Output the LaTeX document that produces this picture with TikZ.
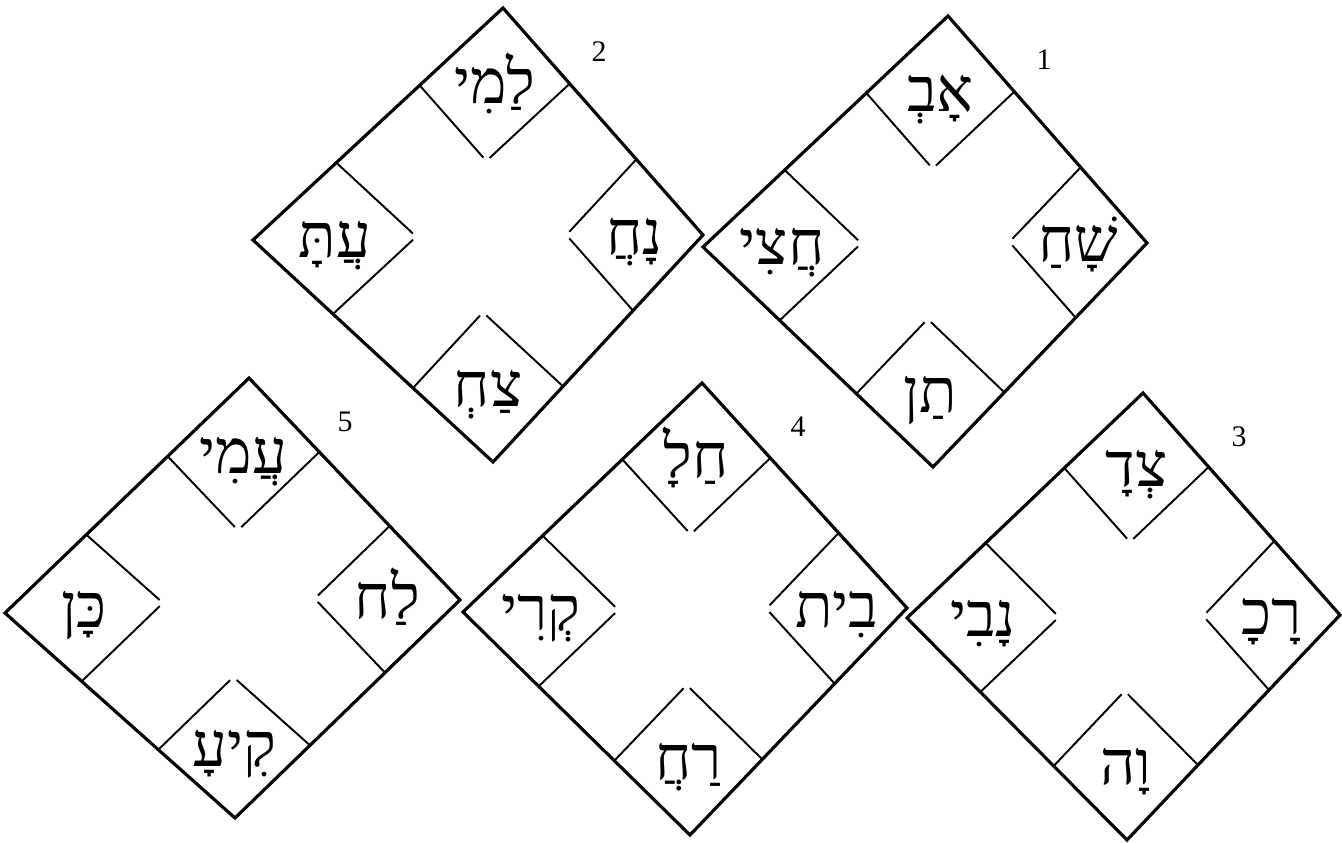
\documentclass[tikz,border=0pt]{standalone}
\usepackage{fontspec}
\setmainfont{Liberation Serif}
\newfontfamily\hebfont[Script=Hebrew]{Liberation Serif}
\TeXXeTstate=1
\usetikzlibrary{calc}

\begin{document}
\begin{tikzpicture}[
  x=0.02cm, y=-0.02cm,
  frame/.style={line width=1.8pt, line join=miter},
  cell/.style={line width=1.1pt, shorten >=0.09cm},
  syl/.style={anchor=base, inner sep=0pt, font=\hebfont\fontsize{35}{35}\selectfont},
  num/.style={inner sep=0pt, font=\fontsize{17}{17}\selectfont}
]
  \useasboundingbox (0,0) rectangle (1342,842);

  % one square per entry: corners top/right/bottom/left, number, then the four syllables
  \foreach \d/\tx/\ty/\rx/\ry/\bx/\by/\lx/\ly/\n/\wt/\wr/\wb/\wl in {
      d1/948/16/1147/243/933/467/703/247/1/אָבְ/שָׁחַ/תַן/חֲצִי,
      d2/503/8/703/235/493/462/253/240/2/לַמִי/נָחֲ/צַחְ/עֲתָּ,
      d3/1143/393/1340/615/1127/840/907/618/3/צְדָ/רָכָ/וָה/נָבִי,
      d4/702/383/907/608/690/835/463/612/4/חַלָ/בִית/רַחֲ/קְרִי,
      d5/249/378/460/600/235/818/5/613/5/עֲמִי/לַח/קִיעָ/כָּן}{
    \coordinate (\d-T) at (\tx,\ty);
    \coordinate (\d-R) at (\rx,\ry);
    \coordinate (\d-B) at (\bx,\by);
    \coordinate (\d-L) at (\lx,\ly);
    \draw[frame] (\d-T) -- (\d-R) -- (\d-B) -- (\d-L) -- cycle;

    % corner cells
    \coordinate (\d-TL) at ($(\d-T)!1/3!(\d-L)$);
    \coordinate (\d-TR) at ($(\d-T)!1/3!(\d-R)$);
    \coordinate (\d-RT) at ($(\d-R)!1/3!(\d-T)$);
    \coordinate (\d-RB) at ($(\d-R)!1/3!(\d-B)$);
    \coordinate (\d-BR) at ($(\d-B)!1/3!(\d-R)$);
    \coordinate (\d-BL) at ($(\d-B)!1/3!(\d-L)$);
    \coordinate (\d-LB) at ($(\d-L)!1/3!(\d-B)$);
    \coordinate (\d-LT) at ($(\d-L)!1/3!(\d-T)$);
    \coordinate (\d-Ti) at ($(\d-TL)+(\d-TR)-(\d-T)$);
    \coordinate (\d-Ri) at ($(\d-RT)+(\d-RB)-(\d-R)$);
    \coordinate (\d-Bi) at ($(\d-BR)+(\d-BL)-(\d-B)$);
    \coordinate (\d-Li) at ($(\d-LB)+(\d-LT)-(\d-L)$);
    \draw[cell] (\d-TL) -- (\d-Ti);
    \draw[cell] (\d-TR) -- (\d-Ti);
    \draw[cell] (\d-RT) -- (\d-Ri);
    \draw[cell] (\d-RB) -- (\d-Ri);
    \draw[cell] (\d-BR) -- (\d-Bi);
    \draw[cell] (\d-BL) -- (\d-Bi);
    \draw[cell] (\d-LB) -- (\d-Li);
    \draw[cell] (\d-LT) -- (\d-Li);

    \node[syl] (\d-top) at ($(\d-T)!.5!(\d-Ti)+(0,19)$) {\beginR\wt\endR};
    \node[syl] (\d-right) at ($(\d-R)!.5!(\d-Ri)+(0,19)$) {\beginR\wr\endR};
    \node[syl] (\d-bottom) at ($(\d-B)!.5!(\d-Bi)+(0,19)$) {\beginR\wb\endR};
    \node[syl] (\d-left) at ($(\d-L)!.5!(\d-Li)+(0,19)$) {\beginR\wl\endR};
    \node[num] (\d-num) at ($(\d-T)+(96,44)$) {\n};
  }
\end{tikzpicture}
\end{document}
